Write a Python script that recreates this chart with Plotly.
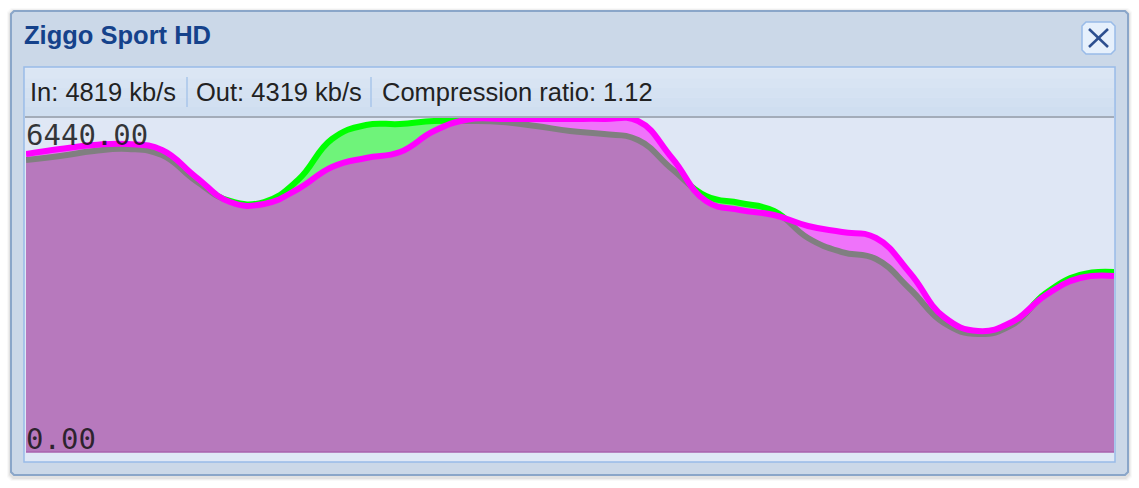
import plotly.graph_objects as go

samples = list(range(0, 1089, 34))
kbps_in = [5630,5707,5804,5842,5726,5225,4840,4820,5244,6035,6305,6324,6382,6382,6363,6286,6189,6131,6016,5456,4936,4801,4647,4126,3856,3721,3143,2487,2275,2449,3066,3413,3470]
kbps_out = [5746,5842,5919,5939,5823,5302,4820,4782,5071,5495,5669,5784,6189,6411,6421,6421,6421,6421,6382,5669,4840,4666,4570,4358,4242,4126,3451,2603,2333,2507,3027,3355,3393]
title_text = "Ziggo Sport HD"
status_texts = ["In: 4819 kb/s", "Out: 4319 kb/s", "Compression ratio: 1.12"]
y_max = 6440
y_labels = ["6440.00", "0.00"]

W, H = 1139, 488
L, R, T, B = 26, 1114, 118, 452
px = lambda x: (x - L) / (R - L)
py = lambda y: (B - y) / (B - T)

def rect(x0, y0, x1, y1, fill, line=None, lw=1):
    return dict(type="rect", xref="paper", yref="paper", layer="below",
                x0=px(x0), x1=px(x1), y0=py(y0), y1=py(y1), fillcolor=fill,
                line=dict(color=line or "rgba(0,0,0,0)", width=lw if line else 0))

def rounded(x0, y0, x1, y1, r, fill, line, lw=1.5):
    pts = [(x0+r,y0),(x1-r,y0),(x1,y0+r),(x1,y1-r),(x1-r,y1),(x0+r,y1),(x0,y1-r),(x0,y0+r)]
    d = "M" + " L".join(f"{px(a):.5f},{py(b):.5f}" for a, b in pts) + " Z"
    return dict(type="path", xref="paper", yref="paper", layer="below", path=d,
                fillcolor=fill, line=dict(color=line, width=lw))

shapes = []
for i, a in enumerate([0.03, 0.05, 0.07]):
    shapes.append(rounded(7+i, 8+i, 1132-i, 481-i, 4, f"rgba(60,60,60,{a})", "rgba(0,0,0,0)", 0))
shapes.append(rounded(11, 11, 1128, 475, 3, "#cbd8e8", "#8aa6c9", 2))
shapes.append(rect(24, 67, 1115, 462, "#dfe8f6", "#99bbe8", 1.5))
tops = ["#dbe6f4", "#d8e4f3", "#d5e2f2", "#d2e0f1", "#cfdef0"]
for i, c in enumerate(tops):
    shapes.append(rect(25, 69 + i*9.5, 1114, 69 + (i+1)*9.5, c))
shapes.append(rect(25, 116, 1114, 118, "#a3acb9"))
for xs in (187, 371):
    shapes.append(rect(xs-0.75, 77, xs+0.75, 107, "#a9c6ea"))
shapes.append(rect(L, T, R, B, "#dfe7f5"))
shapes.append(rounded(1082, 22, 1115, 54, 4, "#e6f0fc", "#99bbe8", 1.5))
for a, b, c, d in [(1089, 29, 1108, 47), (1108, 29, 1089, 47)]:
    shapes.append(dict(type="line", xref="paper", yref="paper", layer="above",
                       x0=px(a), y0=py(b), x1=px(c), y1=py(d),
                       line=dict(color="#2d4f8f", width=2.5)))
shapes.append(dict(type="line", xref="paper", yref="paper", layer="above",
                   x0=0, x1=1, y0=py(452), y1=py(452),
                   line=dict(color="#a862ae", width=1.5)))

def label(x, y, text, size, color, family="Liberation Sans", bold=False):
    return dict(xref="paper", yref="paper", x=px(x), y=py(y), text=f"<b>{text}</b>" if bold else text,
                showarrow=False, xanchor="left", yanchor="middle", borderpad=0,
                font=dict(family=family, size=size, color=color))

annotations = [
    label(23, 35, title_text, 25.5, "#15428b", bold=True),
    label(29, 92, status_texts[0], 25.5, "#222222"),
    label(195, 92, status_texts[1], 25.5, "#222222"),
    label(381, 92, status_texts[2], 25.5, "#222222"),
    label(25, 135, y_labels[0], 29, "rgba(20,20,20,0.85)", "DejaVu Sans Mono"),
    label(25, 439, y_labels[1], 29, "rgba(20,20,20,0.85)", "DejaVu Sans Mono"),
]

fig = go.Figure()
fig.add_trace(go.Scatter(x=samples, y=kbps_in, mode="lines", fill="tozeroy",
                         fillcolor="rgba(0,255,0,0.5)", hoverinfo="skip",
                         line=dict(color="#00ff00", width=6, shape="spline", smoothing=1.3)))
fig.add_trace(go.Scatter(x=samples, y=kbps_out, mode="lines", fill="tozeroy",
                         fillcolor="rgba(255,0,255,0.5)", hoverinfo="skip",
                         line=dict(color="#ff00ff", width=6, shape="spline", smoothing=1.3)))
fig.update_layout(
    width=W, height=H, autosize=False, showlegend=False,
    margin=dict(l=L, r=W-R, t=T, b=H-B, pad=0),
    paper_bgcolor="white", plot_bgcolor="#dfe7f5",
    xaxis=dict(range=[samples[0], samples[-1]], visible=False, fixedrange=True),
    yaxis=dict(range=[0, y_max], visible=False, fixedrange=True),
    shapes=shapes, annotations=annotations,
)
fig.write_html("out.html", config={"displayModeBar": False},
               post_script="document.body.style.margin='0';")
